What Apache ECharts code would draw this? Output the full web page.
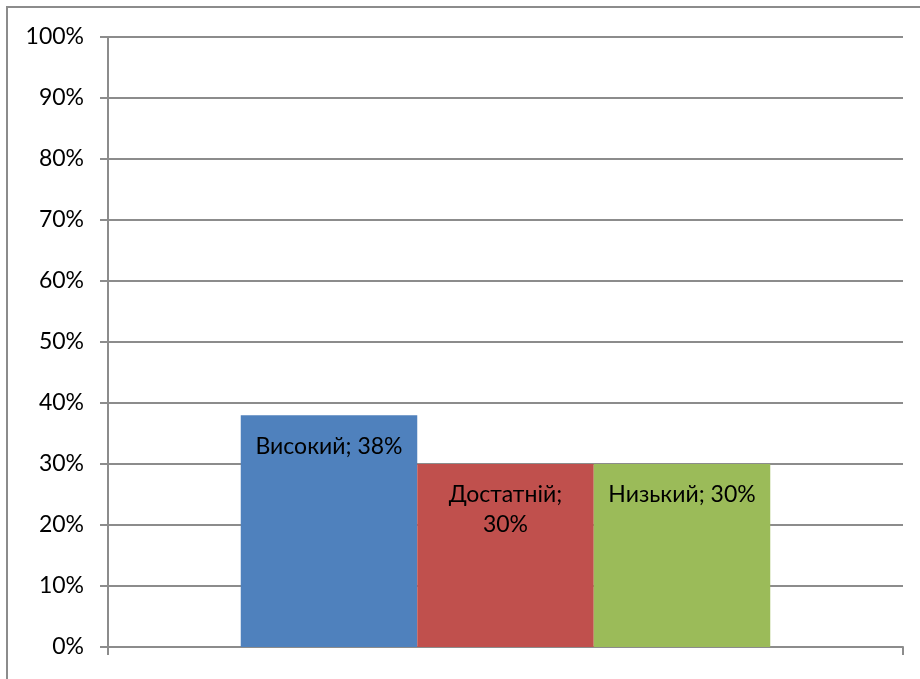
<!DOCTYPE html>
<html>
<head>
<meta charset="utf-8">
<script src="https://cdn.jsdelivr.net/npm/echarts@6/dist/echarts.min.js"></script>
<style>
  html, body { margin: 0; padding: 0; background: #ffffff; }
  #chart { width: 920px; height: 679px; }
</style>
</head>
<body>
<div id="chart"></div>
<script>
// рівні та значення
var levels = ['Високий', 'Достатній', 'Низький'];
var percents = [38, 30, 30];
var colors = ['#4F81BD', '#C0504D', '#9BBB59'];
var wrapLabel = [false, true, false]; // у Excel "Достатній" переноситься
var yTicks = [0, 10, 20, 30, 40, 50, 60, 70, 80, 90, 100];

var fontName = 'Lato, "Noto Sans", sans-serif';
var gridColor = '#8c8c8c';

var chart = echarts.init(document.getElementById('chart'));

var seriesList = [];
for (var i = 0; i < levels.length; i++) {
  seriesList.push({
    name: levels[i],
    type: 'bar',
    data: [percents[i]],
    barWidth: 176.5,
    barGap: '0%',
    itemStyle: { color: colors[i] },
    label: {
      show: true,
      position: 'insideTop',
      distance: 16,
      color: '#000',
      fontFamily: fontName,
      fontSize: 23,
      lineHeight: 30,
      align: 'center',
      formatter: wrapLabel[i] ? '{a};\n{c}%' : '{a}; {c}%'
    }
  });
}

var option = {
  animation: false,
  textStyle: { fontFamily: fontName },
  graphic: [{
    type: 'rect',
    shape: { x: 7, y: 7, width: 940, height: 700 },
    style: { fill: 'none', stroke: gridColor, lineWidth: 2 },
    silent: true
  }],
  grid: { left: 108, right: 17, top: 37, bottom: 32 },
  xAxis: {
    type: 'category',
    data: [''],
    axisLine: { show: true, lineStyle: { color: gridColor, width: 2 } },
    axisTick: { show: true, length: 8, lineStyle: { color: gridColor, width: 2 } },
    axisLabel: { show: false }
  },
  yAxis: {
    type: 'value',
    min: yTicks[0],
    max: yTicks[yTicks.length - 1],
    interval: 10,
    axisLine: { show: true, lineStyle: { color: gridColor, width: 2 } },
    axisTick: { show: true, length: 8, lineStyle: { color: gridColor, width: 2 } },
    splitLine: { show: true, lineStyle: { color: gridColor, width: 2 } },
    axisLabel: {
      margin: 24,
      color: '#000',
      fontSize: 23,
      fontFamily: fontName,
      formatter: '{value}%'
    }
  },
  series: seriesList
};

chart.setOption(option);
</script>
</body>
</html>
